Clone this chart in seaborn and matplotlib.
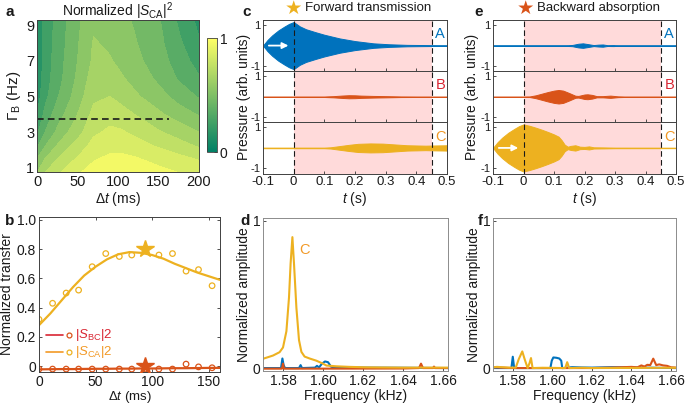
import numpy as np
import matplotlib
matplotlib.use("Agg")
import matplotlib.pyplot as plt
import seaborn as sns
from matplotlib.cm import ScalarMappable
from matplotlib.colors import Normalize

# ---------------- data ----------------
# (a) normalized |S_CA|^2 map, coarse grid (rows = Gamma_B, cols = delta t)
dt_grid = [0, 10, 25, 35, 50, 70, 90, 105, 120, 150, 175, 200]
gamma_grid = [0.7, 1.5, 2.2, 3, 4, 5, 6, 7, 8, 9.4]
sca_map = [
    [0.60, 0.70, 0.78, 0.83, 0.89, 0.94, 0.96, 0.96, 0.95, 0.93, 0.90, 0.86],
    [0.50, 0.60, 0.70, 0.75, 0.81, 0.89, 0.92, 0.92, 0.91, 0.87, 0.83, 0.79],
    [0.38, 0.50, 0.61, 0.67, 0.74, 0.84, 0.87, 0.87, 0.85, 0.79, 0.74, 0.69],
    [0.28, 0.40, 0.52, 0.58, 0.66, 0.78, 0.82, 0.81, 0.78, 0.71, 0.66, 0.60],
    [0.20, 0.33, 0.45, 0.51, 0.60, 0.73, 0.76, 0.74, 0.70, 0.62, 0.55, 0.49],
    [0.15, 0.27, 0.39, 0.45, 0.55, 0.68, 0.70, 0.66, 0.62, 0.54, 0.46, 0.39],
    [0.13, 0.25, 0.36, 0.42, 0.52, 0.65, 0.65, 0.61, 0.57, 0.48, 0.39, 0.31],
    [0.12, 0.24, 0.35, 0.41, 0.50, 0.62, 0.61, 0.57, 0.53, 0.45, 0.35, 0.26],
    [0.12, 0.24, 0.34, 0.40, 0.49, 0.61, 0.58, 0.54, 0.51, 0.43, 0.32, 0.21],
    [0.11, 0.23, 0.33, 0.39, 0.48, 0.57, 0.55, 0.52, 0.49, 0.41, 0.28, 0.17],
]
gamma_cut = 3.75

# (b) transfer vs delay
dt_pts = [0, 12, 24, 35, 47, 59, 71, 82, 94, 106, 118, 130, 141, 153]
sca_pts = [0.32, 0.43, 0.50, 0.52, 0.68, 0.77, 0.75, 0.76, 0.80, 0.76, 0.77, 0.65, 0.66, 0.55]
sbc_pts = [-0.02, -0.02, -0.02, -0.02, -0.02, -0.02, -0.02, -0.02, -0.02, -0.02, -0.02, 0.014, -0.005, -0.011]
dt_fit = [0, 10, 20, 30, 40, 50, 60, 70, 80, 90, 100, 110, 120, 130, 140, 150, 160]
sca_fit = [0.28, 0.36, 0.45, 0.54, 0.62, 0.68, 0.73, 0.765, 0.78, 0.775, 0.76, 0.735, 0.70, 0.67, 0.64, 0.615, 0.59]
sbc_fit = [-0.022, -0.021, -0.02, -0.02, -0.019, -0.018, -0.018, -0.017, -0.017, -0.016, -0.016, -0.015, -0.014, -0.014, -0.013, -0.012, -0.012]
dt_best = 94

# (c) forward transmission, envelopes of pressure at A, B, C
c_A_t = [-0.1, -0.085, -0.07, -0.05, -0.03, -0.015, 0.0, 0.02, 0.04, 0.07, 0.1, 0.15, 0.2, 0.26, 0.31, 0.37, 0.45, 0.5]
c_A_env = [0.0, 0.28, 0.5, 0.74, 0.93, 1.06, 1.15, 0.94, 0.8, 0.66, 0.53, 0.35, 0.22, 0.11, 0.065, 0.035, 0.022, 0.016]
c_B_t = [-0.1, 0.1, 0.13, 0.16, 0.18, 0.2, 0.22, 0.26, 0.3, 0.35, 0.4, 0.5]
c_B_env = [0.012, 0.012, 0.03, 0.06, 0.075, 0.07, 0.055, 0.04, 0.03, 0.015, 0.012, 0.012]
c_C_t = [-0.1, 0.1, 0.12, 0.15, 0.18, 0.21, 0.25, 0.29, 0.33, 0.37, 0.4, 0.43, 0.46, 0.5]
c_C_env = [0.015, 0.015, 0.03, 0.09, 0.15, 0.2, 0.22, 0.21, 0.17, 0.13, 0.12, 0.11, 0.12, 0.13]

# (e) backward absorption
e_A_t = [-0.1, 0.14, 0.16, 0.18, 0.195, 0.21, 0.23, 0.245, 0.26, 0.275, 0.295, 0.31, 0.5]
e_A_env = [0.015, 0.015, 0.03, 0.09, 0.11, 0.075, 0.025, 0.045, 0.055, 0.02, 0.025, 0.012, 0.012]
e_B_t = [-0.1, 0.0, 0.02, 0.04, 0.06, 0.08, 0.1, 0.115, 0.13, 0.15, 0.17, 0.18, 0.2, 0.21,
         0.225, 0.24, 0.26, 0.285, 0.31, 0.33, 0.5]
e_B_env = [0.012, 0.012, 0.015, 0.07, 0.15, 0.23, 0.3, 0.33, 0.3, 0.18, 0.05, 0.04, 0.11, 0.12,
           0.09, 0.03, 0.03, 0.055, 0.02, 0.012, 0.012]
e_C_t = [-0.1, -0.085, -0.07, -0.05, -0.03, -0.015, 0.0, 0.02, 0.04, 0.06, 0.08, 0.1, 0.115, 0.125,
         0.135, 0.145, 0.155, 0.17, 0.185, 0.2, 0.215, 0.23, 0.26, 0.3, 0.5]
e_C_env = [0.0, 0.28, 0.5, 0.74, 0.93, 1.06, 1.15, 1.08, 0.99, 0.89, 0.78, 0.66, 0.55, 0.38,
           0.16, 0.06, 0.1, 0.13, 0.06, 0.05, 0.075, 0.03, 0.025, 0.015, 0.012]

# (d) spectra, forward
d_C_f = [1.570, 1.575, 1.5783, 1.580, 1.5817, 1.583, 1.5838, 1.5847, 1.5855, 1.5867, 1.588, 1.5892,
         1.5908, 1.5933, 1.5967, 1.600, 1.6017, 1.6067, 1.6133, 1.6217, 1.63, 1.64, 1.65, 1.6625]
d_C_amp = [0.063, 0.085, 0.108, 0.14, 0.25, 0.48, 0.71, 0.89, 0.71, 0.41, 0.19, 0.11,
           0.078, 0.065, 0.05, 0.03, 0.017, 0.012, 0.008, 0.005, 0.004, 0.003, 0.003, 0.003]
d_A_f = [1.570, 1.5790, 1.5797, 1.5803, 1.581, 1.588, 1.5888, 1.5895, 1.596, 1.5970, 1.598, 1.5995,
         1.601, 1.6025, 1.604, 1.6055, 1.61, 1.62, 1.64, 1.6625]
d_A_amp = [0.0, 0.0, 0.065, 0.02, 0.0, 0.0, 0.02, 0.0, 0.003, 0.015, 0.004, 0.03,
           0.045, 0.04, 0.01, 0.003, 0.005, 0.003, 0.002, 0.0]
d_B_f = [1.570, 1.5795, 1.580, 1.5805, 1.60, 1.64, 1.648, 1.649, 1.650, 1.655, 1.6555, 1.656, 1.6625]
d_B_amp = [-0.004, -0.004, 0.03, -0.004, -0.004, -0.003, 0.0, 0.03, 0.0, 0.0, 0.01, 0.0, 0.0]

# (f) spectra, backward
f_A_f = [1.570, 1.5793, 1.5800, 1.5807, 1.599, 1.5997, 1.6005, 1.602, 1.6035, 1.6045, 1.605,
         1.6055, 1.61, 1.615, 1.62, 1.63, 1.6625]
f_A_amp = [0.0, 0.0, 0.077, 0.0, 0.0, 0.05, 0.072, 0.07, 0.065, 0.05, 0.0,
           0.0, 0.006, 0.004, 0.003, 0.006, 0.0]
f_C_f = [1.570, 1.572, 1.578, 1.5815, 1.583, 1.5848, 1.586, 1.5875, 1.5885, 1.5892, 1.590, 1.595,
         1.6065, 1.6075, 1.6085, 1.615, 1.62, 1.6625]
f_C_amp = [0.005, 0.008, 0.003, 0.003, 0.06, 0.113, 0.06, 0.0, 0.035, 0.068, 0.0, 0.002,
           0.0, 0.04, 0.0, 0.002, 0.0, 0.002]
f_B_f = [1.570, 1.58, 1.62, 1.63, 1.64, 1.643, 1.645, 1.6465, 1.648, 1.6495, 1.651, 1.6525,
         1.654, 1.656, 1.658, 1.66, 1.6625]
f_B_amp = [0.005, 0.0, 0.0, 0.003, 0.008, 0.005, 0.018, 0.01, 0.022, 0.02, 0.064, 0.02,
           0.025, 0.018, 0.015, 0.005, 0.003]

# ---------------- style ----------------
BLUE = (0.0, 0.447, 0.741)
RED = (0.85, 0.325, 0.098)
YEL = (0.929, 0.694, 0.125)
ORANGE = (0.95, 0.6, 0.15)
CRIMSON = (0.85, 0.15, 0.2)
PINK = (1.0, 0.855, 0.855)

sns.set_theme(style="ticks")
plt.rcParams["font.family"] = ["Liberation Sans", "DejaVu Sans"]
plt.rcParams.update({
    "mathtext.fontset": "custom",
    "mathtext.rm": "Liberation Sans",
    "mathtext.it": "Liberation Sans:italic",
    "axes.unicode_minus": False,
    "xtick.direction": "in", "ytick.direction": "in",
    "xtick.top": True, "ytick.right": True,
    "xtick.major.size": 2.5, "ytick.major.size": 2.5,
    "xtick.major.width": 0.6, "ytick.major.width": 0.6,
    "xtick.major.pad": 2, "ytick.major.pad": 2,
    "axes.edgecolor": "0.25", "axes.linewidth": 0.7,
    "xtick.labelsize": 9.5, "ytick.labelsize": 9.5,
    "axes.labelsize": 9.5, "text.color": "k",
    "axes.labelcolor": "k", "xtick.color": "0.2", "ytick.color": "0.2",
    "xtick.labelcolor": "k", "ytick.labelcolor": "k",
})

W, H = 685, 405
fig = plt.figure(figsize=(W / 100, H / 100), dpi=100)


def rect(l, t, r, b):
    return [l / W, 1 - b / H, (r - l) / W, (b - t) / H]


def letter(x, y, s):
    fig.text(x / W, 1 - y / H, s, fontsize=11, weight="bold", va="center", ha="left")


# ---------------- (a) ----------------
ax_a = fig.add_axes(rect(37, 20, 199, 172))
levels = np.arange(0, 1.01, 0.1)
ax_a.contourf(dt_grid, gamma_grid, np.array(sca_map), levels=levels, cmap="summer", vmin=0, vmax=1)
ax_a.plot([0, 163], [gamma_cut, gamma_cut], color="k", lw=1.2, dashes=(4, 2.5))
ax_a.set_xlim(0, 200)
ax_a.set_ylim(0.75, 9.3)
ax_a.set_xticks([0, 50, 100, 150, 200])
ax_a.set_yticks([1, 3, 5, 7, 9])
ax_a.tick_params(labelsize=10.5)
ax_a.set_xlabel(r"$\Delta t$ (ms)", fontsize=10, labelpad=1)
ax_a.set_ylabel(r"$\Gamma_{\rm B}$ (Hz)", fontsize=11, labelpad=2)
fig.text(118 / W, 1 - 11 / H, r"Normalized $|S_{\rm CA}|^2$", fontsize=10, ha="center", va="center")
cax = fig.add_axes(rect(207, 38, 217, 152))
cb = fig.colorbar(ScalarMappable(norm=Normalize(0, 1), cmap="summer"), cax=cax, ticks=[0, 1])
cb.ax.set_yticklabels(["0", "1"])
cb.ax.tick_params(labelsize=10, length=2, direction="in")
cb.outline.set_linewidth(0.6)
letter(5, 12, "a")

# ---------------- (b) ----------------
ax_b = fig.add_axes(rect(39, 217, 220, 372))
sns.lineplot(x=dt_fit, y=sca_fit, color=YEL, lw=1.6, ax=ax_b)
sns.lineplot(x=dt_fit, y=sbc_fit, color=RED, lw=1.6, ax=ax_b)
sns.scatterplot(x=dt_pts, y=sca_pts, marker="o", s=16, facecolor="none", edgecolor=YEL, linewidth=0.9, ax=ax_b)
sns.scatterplot(x=dt_pts, y=sbc_pts, marker="o", s=16, facecolor="none", edgecolor=RED, linewidth=0.9, ax=ax_b)
ax_b.plot(dt_best, sca_pts[8], marker="*", ms=13, color=YEL, mec=YEL, zorder=5)
ax_b.plot(dt_best, 0.0, marker="*", ms=13, color=RED, mec=RED, zorder=5)
ax_b.set_xlim(0, 160)
ax_b.set_ylim(-0.04, 1.02)
ax_b.set_xticks([0, 50, 100, 150])
ax_b.set_yticks([0, 0.2, 0.4, 0.6, 0.8, 1.0])
ax_b.set_yticklabels(["0", "0.2", "0.4", "0.6", "0.8", "1.0"])
ax_b.tick_params(labelsize=10)
ax_b.set_xlabel(r"$\Delta t$ (ms)", fontsize=9.5, labelpad=0)
ax_b.set_ylabel("Normalized transfer", fontsize=10, labelpad=2)
# hand-made legend
for yy, lc, mc, tc, lab in [(0.238, CRIMSON, RED, CRIMSON, r"$|S_{\rm BC}|$2"),
                            (0.13, ORANGE, YEL, ORANGE, r"$|S_{\rm CA}|$2")]:
    ax_b.plot([0.04, 0.13], [yy, yy], color=lc, lw=1.2, transform=ax_b.transAxes)
    ax_b.plot(0.168, yy, marker="o", ms=3.5, mfc="none", mec=mc, mew=0.9, transform=ax_b.transAxes)
    ax_b.text(0.2, yy, lab, color=tc, fontsize=9.5, va="center", transform=ax_b.transAxes)
letter(5, 221, "b")


# ---------------- (c), (e) ----------------
def trace_panel(left, right, traces, title, star_col, arrow_row, ylab_x, title_x):
    h = (173.5 - 20) / 3
    for i, (t, env, col, lab, labcol) in enumerate(traces):
        ax = fig.add_axes(rect(left, 20 + i * h, right, 20 + (i + 1) * h))
        ax.axvspan(0, 0.45, color=PINK, lw=0, zorder=0)
        env = np.asarray(env)
        ax.fill_between(t, -env, env, color=col, edgecolor=col, lw=0.7, zorder=2)
        for xv in (0, 0.45):
            ax.axvline(xv, color="k", lw=0.8, dashes=(5, 3), zorder=3)
        ax.set_xlim(-0.1, 0.5)
        ax.set_ylim(-1.25, 1.25)
        ax.set_yticks([-1, 1])
        ax.set_yticklabels(["-1", "1"])
        ax.set_xticks([-0.1, 0, 0.1, 0.2, 0.3, 0.4, 0.5])
        ax.tick_params(labelsize=9.5, top=False, right=False)
        ax.tick_params(axis="y", labelsize=8)
        ax.text(0.478, 0.55, lab, color=labcol, fontsize=10.5, ha="center", va="center", zorder=4)
        if i == arrow_row:
            ax.annotate("", xy=(-0.008, 0), xytext=(-0.09, 0),
                        arrowprops=dict(arrowstyle="-|>", color="white", lw=1.3, mutation_scale=9))
        if i < 2:
            ax.set_xticklabels([])
        else:
            ax.set_xticklabels(["-0.1", "0", "0.1", "0.2", "0.3", "0.4", "0.5"])
            ax.set_xlabel(r"$t$ (s)", fontsize=10, labelpad=1)
    fig.text(ylab_x / W, 1 - 97 / H, "Pressure (arb. units)", rotation=90, fontsize=10,
             ha="center", va="center")
    fig.text(title_x / W, 1 - 8 / H, "\u2605", color=star_col, fontsize=14, ha="center", va="center",
             family=["DejaVu Sans"])
    fig.text((title_x + 12) / W, 1 - 8 / H, title, fontsize=9.5, ha="left", va="center")


trace_panel(263, 447,
            [(c_A_t, c_A_env, BLUE, "A", BLUE),
             (c_B_t, c_B_env, RED, "B", CRIMSON),
             (c_C_t, c_C_env, YEL, "C", ORANGE)],
            "Forward transmission", YEL, 0, 244, 293)
letter(242, 12, "c")
trace_panel(493, 676,
            [(e_A_t, e_A_env, BLUE, "A", BLUE),
             (e_B_t, e_B_env, RED, "B", CRIMSON),
             (e_C_t, e_C_env, YEL, "C", ORANGE)],
            "Backward absorption", RED, 2, 472, 525)
letter(474, 12, "e")


# ---------------- (d), (f) ----------------
def spectrum_panel(left, right, series):
    ax = fig.add_axes(rect(left, 218, right, 371))
    for f, a, col in series:
        sns.lineplot(x=f, y=a, color=col, lw=1.5, ax=ax)
    ax.set_xlim(1.57, 1.6625)
    ax.set_ylim(-0.02, 1.02)
    ax.set_xticks([1.58, 1.60, 1.62, 1.64, 1.66])
    ax.set_xticklabels(["1.58", "1.60", "1.62", "1.64", "1.66"])
    ax.set_yticks([0, 1])
    ax.set_yticklabels(["0", "1"])
    ax.tick_params(labelsize=10, top=False, right=False)
    ax.set_xlabel("Frequency (kHz)", fontsize=10, labelpad=1)
    ax.set_ylabel("Normalized amplitude", fontsize=10, labelpad=1)
    for s in ax.spines.values():
        s.set_color("0.55")
    return ax


ax_d = spectrum_panel(263, 448, [(d_A_f, d_A_amp, BLUE), (d_B_f, d_B_amp, RED), (d_C_f, d_C_amp, YEL)])
ax_d.text(1.5905, 0.80, "C", color=ORANGE, fontsize=10.5, ha="center", va="center")
letter(240, 221, "d")
ax_f = spectrum_panel(493, 676, [(f_A_f, f_A_amp, BLUE), (f_B_f, f_B_amp, RED), (f_C_f, f_C_amp, YEL)])
letter(478, 221, "f")

fig.savefig("out.png", dpi=100)
